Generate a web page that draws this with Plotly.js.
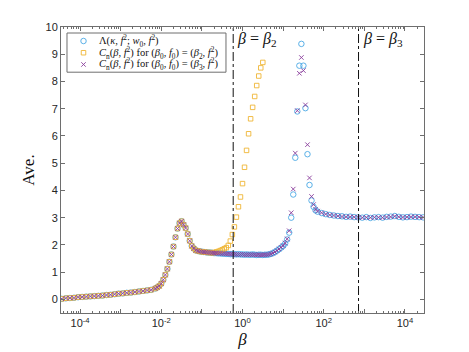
<!DOCTYPE html>
<html>
<head>
<meta charset="utf-8">
<script src="https://cdn.plot.ly/plotly-3.0.1.min.js"></script>
<style>html,body{margin:0;padding:0;background:#fff;}</style>
</head>
<body>
<div id="ave_chart" style="width:469px;height:352px;"></div>
<script>
// log10(beta) sample positions
var logBeta = [-4.45,-4.35,-4.25,-4.15,-4.05,-3.95,-3.85,-3.75,-3.65,-3.55,-3.45,-3.35,-3.25,-3.15,-3.05,-2.95,-2.85,-2.75,-2.65,-2.55,-2.45,-2.35,-2.25,-2.15,
  -2.10,-2.05,-2.00,-1.95,-1.90,-1.85,-1.80,-1.75,-1.70,-1.65,-1.60,-1.55,-1.50,-1.45,-1.40,-1.35,-1.30,-1.25,-1.20,
  -1.15,-1.10,-1.05,-1.00,-0.95,-0.90,-0.85,-0.80,-0.75,-0.70,-0.65,-0.60,-0.55,-0.50,-0.45,-0.40,-0.35,-0.30,-0.25,-0.20,-0.15,-0.10,-0.05,
  0.00,0.05,0.10,0.15,0.20,0.25,0.30,0.35,0.40,0.45,0.50,0.55,0.60,0.65,0.70,0.75,0.80,0.85,0.90,0.95,1.00,1.05,1.10,1.15,1.20,1.25,1.30,1.35,1.40,1.45,1.50,1.55,1.60,1.65,1.70,1.75,1.80,1.85,
  1.95,2.05,2.15,2.25,2.35,2.45,2.55,2.65,2.75,2.85,2.95,3.05,3.15,3.25,3.35,3.45,3.55,3.65,3.75,3.85,3.95,4.05,4.15,4.25,4.35,4.45];

var lambdaVals = [0.02,0.04,0.05,0.06,0.08,0.09,0.10,0.11,0.12,0.13,0.14,0.16,0.17,0.19,0.21,0.22,0.24,0.25,0.27,0.29,0.31,0.33,0.35,0.40,
  0.44,0.49,0.58,0.72,0.90,1.12,1.38,1.65,1.94,2.28,2.60,2.80,2.87,2.74,2.62,2.40,2.15,1.96,1.87,
  1.80,1.78,1.76,1.75,1.74,1.73,1.72,1.72,1.71,1.70,1.70,1.69,1.69,1.68,1.68,1.67,1.67,1.66,1.66,1.66,1.65,1.66,1.65,
  1.65,1.64,1.65,1.64,1.64,1.65,1.64,1.63,1.64,1.64,1.63,1.64,1.64,1.65,1.67,1.70,1.74,1.79,1.84,1.90,1.96,2.05,2.20,2.45,3.00,3.85,5.20,6.90,8.58,9.38,8.58,7.02,5.33,4.20,3.63,3.40,3.27,3.22,
  3.17,3.13,3.10,3.08,3.06,3.05,3.03,3.04,3.02,3.01,3.00,3.02,2.99,3.01,3.02,3.00,3.03,3.04,3.06,3.03,3.01,3.02,3.04,3.03,3.02,3.01];

var cnBeta2Vals = [0.02,0.04,0.05,0.06,0.08,0.09,0.10,0.11,0.12,0.13,0.14,0.16,0.17,0.19,0.21,0.22,0.24,0.25,0.27,0.29,0.31,0.33,0.35,0.40,
  0.44,0.49,0.58,0.72,0.90,1.12,1.38,1.65,1.94,2.28,2.60,2.80,2.87,2.74,2.62,2.40,2.15,1.96,1.87,
  1.80,1.78,1.76,1.75,1.74,1.73,1.72,1.72,1.71,1.72,1.74,1.76,1.79,1.82,1.86,1.90,1.98,2.14,2.38,2.66,3.02,3.40,3.76,
  4.25,4.85,5.47,6.08,6.63,7.05,7.45,7.85,8.20,8.50,8.70,null,null,null,null,null,null,null,null,null,null,null,null,null,null,null,null,null,null,null,null,null,null,null,null,null,null,null,
  null,null,null,null,null,null,null,null,null,null,null,null,null,null,null,null,null,null,null,null,null,null,null,null,null,null];

var cnBeta3Vals = [0.02,0.04,0.05,0.06,0.08,0.09,0.10,0.11,0.12,0.13,0.14,0.16,0.17,0.19,0.21,0.22,0.24,0.25,0.27,0.29,0.31,0.33,0.35,0.40,
  0.44,0.49,0.58,0.72,0.90,1.12,1.38,1.65,1.94,2.28,2.60,2.80,2.87,2.74,2.62,2.40,2.15,1.96,1.87,
  1.80,1.78,1.76,1.75,1.74,1.73,1.72,1.72,1.71,1.70,1.70,1.69,1.69,1.68,1.68,1.67,1.67,1.66,1.66,1.66,1.65,1.65,1.65,
  1.65,1.64,1.64,1.64,1.64,1.64,1.64,1.63,1.64,1.63,1.63,1.64,1.64,1.65,1.67,1.70,1.74,1.79,1.85,1.91,1.97,2.07,2.22,2.52,3.18,4.05,5.37,6.93,8.30,8.88,8.40,7.14,5.68,4.46,3.78,3.48,3.31,3.24,
  3.18,3.13,3.10,3.08,3.06,3.04,3.03,3.03,3.02,3.01,3.00,3.01,3.00,3.01,3.01,3.00,3.02,3.03,3.05,3.03,3.01,3.02,3.03,3.03,3.02,3.01];

var betaMarks = [0.59, 720];
var betaMarkLabels = ['<i>β</i> = <i>β</i><sub>2</sub>', '<i>β</i> = <i>β</i><sub>3</sub>'];
var xTickVals = [1e-4, 1e-3, 1e-2, 1e-1, 1, 10, 100, 1000, 1e4];
var xTickText = ['10<sup>-4</sup>', '', '10<sup>-2</sup>', '', '10<sup>0</sup>', '', '10<sup>2</sup>', '', '10<sup>4</sup>'];

var seriesNames = [
  'Λ(<i>κ</i>, <i>f</i><sup>2</sup>; <i>w</i><sub>0</sub>, <i>f</i><sup>2</sup>)',
  '<i>C</i><sub>n</sub>(<i>β</i>, <i>f</i><sup>2</sup>) for (<i>β</i><sub>0</sub>, <i>f</i><sub>0</sub>) = (<i>β</i><sub>2</sub>, <i>f</i><sup>2</sup>)',
  '<i>C</i><sub>n</sub>(<i>β</i>, <i>f</i><sup>2</sup>) for (<i>β</i><sub>0</sub>, <i>f</i><sub>0</sub>) = (<i>β</i><sub>3</sub>, <i>f</i><sup>2</sup>)'
];
var seriesMarkers = [
  {symbol: 'circle-open', size: 5.5, color: '#4aa8e4', line: {width: 0.9}},
  {symbol: 'square-open', size: 4.5, color: '#efb534', line: {width: 0.9}},
  {symbol: 'x-thin-open', size: 4.5, color: '#8a3d9c', line: {width: 0.9}}
];

var betaVals = logBeta.map(function (v) { return Math.pow(10, v); });
var seriesVals = [lambdaVals, cnBeta2Vals, cnBeta3Vals];

var serif = 'Liberation Serif, Times New Roman, serif';
var axisColor = '#6e6e6e';

var data = seriesVals.map(function (vals, i) {
  return {x: betaVals, y: vals, type: 'scatter', mode: 'markers',
    name: seriesNames[i], marker: seriesMarkers[i], showlegend: false, hoverinfo: 'skip'};
});

betaMarks.forEach(function (b) {
  data.push({
    x: [b, b], y: [-0.5, 10], type: 'scatter', mode: 'lines',
    line: {color: '#111', width: 1, dash: 'dashdot'},
    showlegend: false, hoverinfo: 'skip'
  });
});

// hand-built legend (compact like the reference) on an overlay 0..1 axis pair
var legendRows = [0.951, 0.910, 0.869];
seriesNames.forEach(function (n, i) {
  data.push({
    x: [0.062], y: [legendRows[i]], xaxis: 'x2', yaxis: 'y2',
    type: 'scatter', mode: 'markers', marker: seriesMarkers[i],
    showlegend: false, hoverinfo: 'skip'
  });
});

var annotations = betaMarks.map(function (b, i) {
  return {
    x: Math.log10(b), y: 9.55, xref: 'x', yref: 'y', text: betaMarkLabels[i],
    showarrow: false, xanchor: 'left', xshift: 2,
    font: {family: serif, size: 16, color: '#111'}
  };
});
seriesNames.forEach(function (n, i) {
  annotations.push({
    x: 0.1, y: legendRows[i], xref: 'paper', yref: 'paper', text: n,
    showarrow: false, xanchor: 'left', yanchor: 'middle',
    font: {family: serif, size: 10.5, color: '#111'}
  });
});

var layout = {
  width: 469, height: 352,
  margin: {l: 61, r: 45, t: 27, b: 39},
  paper_bgcolor: '#fff', plot_bgcolor: '#fff',
  font: {family: 'Liberation Sans, Arial, sans-serif', size: 11, color: '#262626'},
  showlegend: false,
  xaxis: {
    type: 'log', range: [-4.47, 4.47],
    tickmode: 'array', tickvals: xTickVals, ticktext: xTickText,
    ticks: 'inside', ticklen: 4, tickcolor: axisColor,
    minor: {dtick: 'D1', ticks: 'inside', ticklen: 2, tickcolor: axisColor, showgrid: false},
    showline: true, linecolor: axisColor, mirror: 'ticks',
    showgrid: false, zeroline: false,
    title: {text: '<i>β</i>', font: {family: serif, size: 17, color: '#111'}, standoff: 4}
  },
  yaxis: {
    range: [-0.5, 10], dtick: 1, tick0: 0,
    ticks: 'inside', ticklen: 4, tickcolor: axisColor,
    showline: true, linecolor: axisColor, mirror: 'ticks',
    showgrid: false, zeroline: false,
    title: {text: 'Ave.', font: {family: serif, size: 17, color: '#111'}, standoff: 6}
  },
  xaxis2: {overlaying: 'x', anchor: 'y2', range: [0, 1], visible: false, fixedrange: true},
  yaxis2: {overlaying: 'y', anchor: 'x2', range: [0, 1], visible: false, fixedrange: true},
  shapes: [{
    type: 'rect', xref: 'paper', yref: 'paper', layer: 'below',
    x0: 0.0165, x1: 0.4545, y0: 0.842, y1: 0.979,
    line: {color: axisColor, width: 1}, fillcolor: '#fff'
  }],
  annotations: annotations
};

Plotly.newPlot('ave_chart', data, layout, {displayModeBar: false, staticPlot: true});
</script>
</body>
</html>
